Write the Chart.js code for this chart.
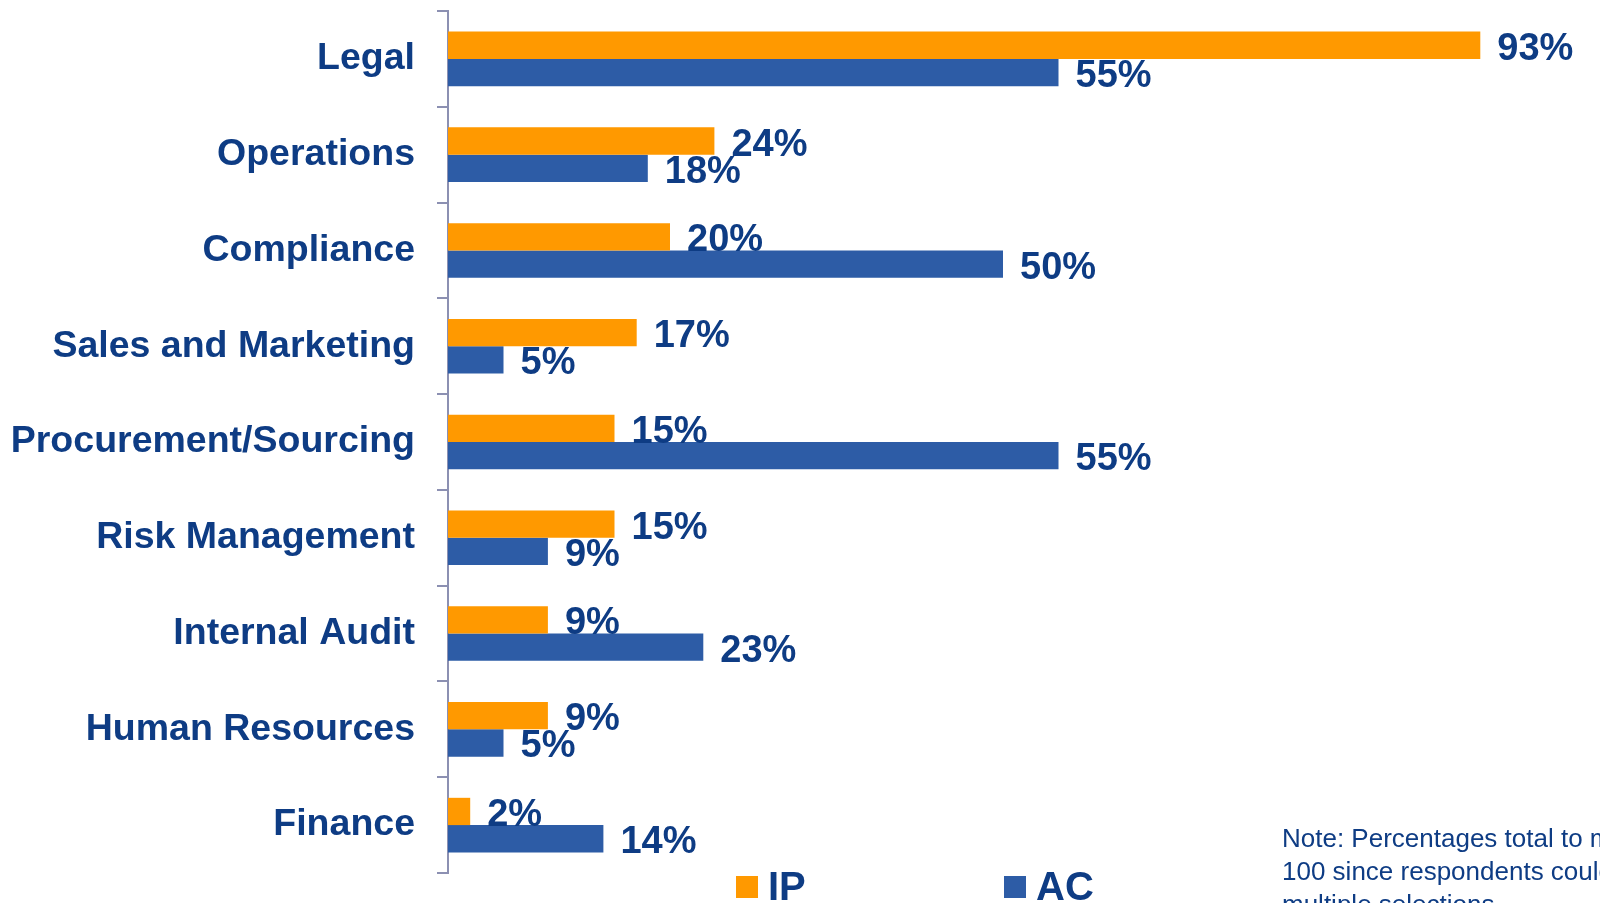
<!DOCTYPE html>
<html>
<head>
<meta charset="utf-8">
<title>Functions</title>
<script src="https://cdn.jsdelivr.net/npm/chart.js@4.4.1/dist/chart.umd.min.js"></script>
<style>
    html, body { margin: 0; padding: 0; background: #fff; overflow: hidden; }
    #wrap { position: relative; width: 1600px; height: 903px; overflow: hidden; }
    #note {
        position: absolute; left: 1282px; top: 822px;
        font: 26px "Liberation Sans", Arial, sans-serif;
        line-height: 33px; color: #0e3c84; white-space: nowrap;
    }
</style>
</head>
<body>
<div id="wrap">
    <canvas id="barChart" width="1600" height="903"></canvas>
    <div id="note">Note: Percentages total to more than<br>100 since respondents could make<br>multiple selections.</div>
</div>
<script>
(function(){
    "use strict";
    var categories = ["Legal", "Operations", "Compliance", "Sales and Marketing",
        "Procurement/Sourcing", "Risk Management", "Internal Audit",
        "Human Resources", "Finance"];
    var ipValues = [93, 24, 20, 17, 15, 15, 9, 9, 2];
    var acValues = [55, 18, 50, 5, 55, 9, 23, 5, 14];
    var seriesNames = ["IP", "AC"];

    var orange = "#ff9900";
    var blue = "#2d5ca6";
    var textColor = "#0e3c84";
    var axisColor = "#8c90b2";
    var fontFamily = '"Liberation Sans", Arial, sans-serif';

    // value labels at the end of each bar
    var valueLabels = {
        id: "valueLabels",
        afterDatasetsDraw: function(chart) {
            var ctx = chart.ctx;
            ctx.save();
            ctx.font = "bold 38px " + fontFamily;
            ctx.fillStyle = textColor;
            ctx.textAlign = "left";
            ctx.textBaseline = "middle";
            chart.data.datasets.forEach(function(ds, i) {
                chart.getDatasetMeta(i).data.forEach(function(bar, j) {
                    ctx.fillText(ds.data[j] + "%", bar.x + 17, bar.y + 4);
                });
            });
            ctx.restore();
        }
    };

    // legend under the plot, spaced like the original slide
    var bottomLegend = {
        id: "bottomLegend",
        afterDraw: function(chart) {
            var ctx = chart.ctx;
            var starts = [736, 1004];
            ctx.save();
            ctx.font = "bold 40px " + fontFamily;
            ctx.textAlign = "left";
            ctx.textBaseline = "alphabetic";
            chart.data.datasets.forEach(function(ds, i) {
                var x = starts[i];
                ctx.fillStyle = ds.backgroundColor;
                ctx.fillRect(x, 876, 22, 22);
                ctx.fillStyle = textColor;
                ctx.fillText(ds.label, x + 32, 900);
            });
            ctx.restore();
        }
    };

    new Chart(document.getElementById("barChart"), {
        type: "bar",
        data: {
            labels: categories,
            datasets: [
                { label: seriesNames[0], data: ipValues, backgroundColor: orange },
                { label: seriesNames[1], data: acValues, backgroundColor: blue }
            ]
        },
        options: {
            indexAxis: "y",
            responsive: false,
            animation: false,
            categoryPercentage: 0.57,
            barPercentage: 1.0,
            layout: { padding: { left: 0, right: 42, top: 11, bottom: 30 } },
            plugins: {
                legend: { display: false },
                tooltip: { enabled: false }
            },
            scales: {
                x: { display: false, min: 0, max: 100 },
                y: {
                    grid: {
                        drawOnChartArea: false,
                        drawTicks: true,
                        tickLength: 11,
                        color: axisColor,
                        lineWidth: 2,
                        offset: true
                    },
                    border: { color: axisColor, width: 2 },
                    ticks: {
                        color: textColor,
                        padding: 22,
                        font: { family: fontFamily, size: 37.5, weight: "bold" }
                    },
                    afterFit: function(scale) {
                        scale.width = 448;
                        scale.paddingTop = 0;
                        scale.paddingBottom = 0;
                    }
                }
            }
        },
        plugins: [valueLabels, bottomLegend]
    });
})();
</script>
</body>
</html>
